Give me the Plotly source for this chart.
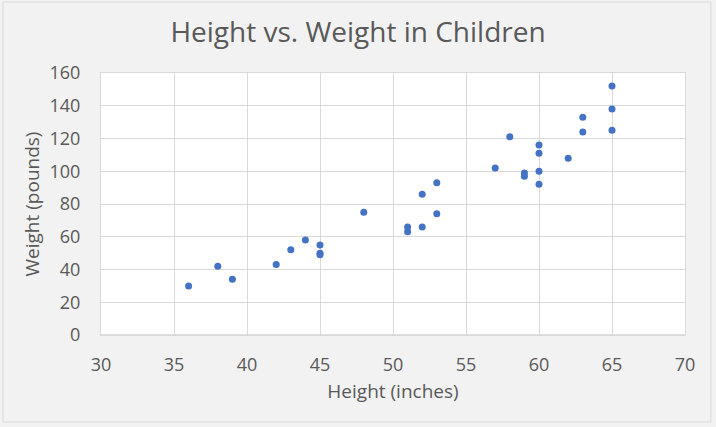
import plotly.graph_objects as go

height_in = [36, 38, 39, 42, 43, 44, 45, 45, 45, 48, 51, 51, 52, 52, 53, 53,
             57, 58, 59, 59, 60, 60, 60, 60, 62, 63, 63, 65, 65, 65]
weight_lb = [30, 42, 34, 43, 52, 58, 55, 50, 49, 75, 66, 63, 86, 66, 93, 74,
             102, 121, 99, 97, 116, 111, 100, 92, 108, 133, 124, 152, 138, 125]

x_ticks = [30, 35, 40, 45, 50, 55, 60, 65, 70]
y_ticks = [0, 20, 40, 60, 80, 100, 120, 140, 160]

FONT = "Open Sans"
TXT = "#595959"
GRID = "#d9d9d9"

fig = go.Figure()
fig.add_trace(go.Scatter(
    x=height_in, y=weight_lb, mode="markers",
    marker=dict(color="#4472C4", size=7, line=dict(width=0)),
    showlegend=False,
))

W, H = 716, 427
L, R, T, B = 101, 31, 73, 92
pw, ph = W - L - R, H - T - B

def px_x(p):
    return (p - L) / pw

def px_y(p):
    return (H - B - p) / ph

fig.update_layout(
    width=W, height=H,
    margin=dict(l=L, r=R, t=T, b=B, pad=0),
    paper_bgcolor="#f2f2f2",
    plot_bgcolor="white",
    font=dict(family=FONT, color=TXT),
    title=dict(text="Height vs. Weight in Children", x=0.5, xref="container",
               xanchor="center", y=1 - 32 / H, yanchor="middle",
               font=dict(size=28, color=TXT, family=FONT)),
    xaxis=dict(range=[30, 70], tickvals=x_ticks, ticks="",
               showgrid=True, gridcolor=GRID, gridwidth=1,
               showline=True, linecolor=GRID, mirror=True, zeroline=False,
               tickfont=dict(size=18, color=TXT), ticklabelstandoff=13,
               title=dict(text="Height (inches)", font=dict(size=19, color=TXT),
                          standoff=10)),
    yaxis=dict(range=[0, 160], tickvals=y_ticks, ticks="",
               showgrid=True, gridcolor=GRID, gridwidth=1,
               showline=True, linecolor=GRID, mirror=True, zeroline=False,
               tickfont=dict(size=18, color=TXT), ticklabelstandoff=16,
               title=dict(text="Weight (pounds)", font=dict(size=19, color=TXT),
                          standoff=4)),
    shapes=[
        dict(type="line", xref="paper", yref="y", x0=0, x1=1, y0=0, y1=0,
             line=dict(color="#bfbfbf", width=1), layer="above"),
        dict(type="rect", xref="paper", yref="paper",
             x0=px_x(3), x1=px_x(711), y0=px_y(422), y1=px_y(2),
             line=dict(color=GRID, width=1), fillcolor="rgba(0,0,0,0)",
             layer="above"),
    ],
)

fig.write_html("out.html",
               config={"displayModeBar": False},
               post_script="document.body.style.margin='0';"
                           "document.body.style.overflow='hidden';")
